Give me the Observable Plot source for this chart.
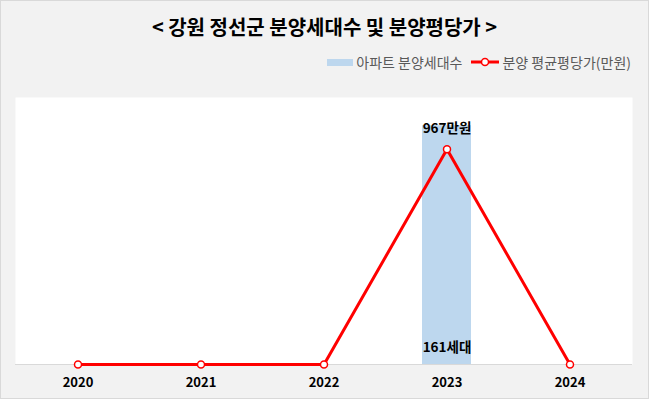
<!DOCTYPE html>
<html>
<head>
<meta charset="utf-8">
<script src="https://cdn.jsdelivr.net/npm/d3@7"></script>
<script src="https://cdn.jsdelivr.net/npm/@observablehq/plot@0.6"></script>
<style>
  html, body { margin: 0; padding: 0; background: #fff; }
  #wrap { position: relative; width: 649px; height: 399px; background: #f2f2f2; overflow: hidden;
          font-family: "Noto Sans CJK KR", "Noto Sans", sans-serif; }
  #title { position: absolute; left: 0; top: 13px; width: 649px; text-align: center;
           font-size: 20px; font-weight: bold; color: #000; line-height: 28px; }
  #legend { position: absolute; right: 18px; top: 52px; font-size: 14px; color: #595959;
            line-height: 20px; display: flex; align-items: center; white-space: nowrap; }
  #legend .sw { display: inline-block; width: 26px; height: 7px; background: #bdd7ee; margin-right: 3px; }
  #legend svg { margin-right: 2px; margin-left: 8px; }
  #chart { position: absolute; left: 0; top: 0; }
  #border { position: absolute; left: 0; top: 0; width: 647px; height: 397px; border: 1px solid #d9d9d9; pointer-events: none; }
</style>
</head>
<body>
<div id="wrap">
  <div id="chart"></div>
  <div id="title">&lt; 강원 정선군 분양세대수 및 분양평당가 &gt;</div>
  <div id="legend">
    <span class="sw"></span><span>아파트 분양세대수</span>
    <svg width="30" height="12"><line x1="1" y1="6" x2="29" y2="6" stroke="#ff0000" stroke-width="3"/><circle cx="15" cy="6" r="3.5" fill="#fff" stroke="#ff0000" stroke-width="1.5"/></svg>
    <span>분양 평균평당가(만원)</span>
  </div>
  <div id="border"></div>
</div>
<script>
const years = ["2020", "2021", "2022", "2023", "2024"];
const units = [0, 0, 0, 161, 0];
const prices = [0, 0, 0, 967, 0];

const data = years.map((year, i) => ({year, units: units[i], price: prices[i]}));
const unitMax = 180;
const priceMax = 1200;
const toUnitScale = v => v * unitMax / priceMax;

const chart = Plot.plot({
  width: 649,
  height: 399,
  marginTop: 97,
  marginBottom: 35,
  marginLeft: 15,
  marginRight: 17,
  style: {background: "transparent", fontFamily: "'Noto Sans CJK KR', 'Noto Sans', sans-serif", color: "#000"},
  x: {domain: years, paddingInner: 0.6, paddingOuter: 0.3},
  y: {domain: [0, unitMax], axis: null},
  marks: [
    Plot.frame({fill: "white", stroke: "none"}),
    Plot.barY(data, {x: "year", y: "units", fill: "#bdd7ee"}),
    Plot.ruleY([0], {stroke: "#d9d9d9", strokeWidth: 1}),
    Plot.axisX({tickSize: 0, tickPadding: 13, fontSize: 13, fontWeight: "bold", label: null}),
    Plot.line(data, {x: "year", y: d => toUnitScale(d.price), stroke: "#ff0000", strokeWidth: 3, curve: "linear"}),
    Plot.dot(data, {x: "year", y: d => toUnitScale(d.price), r: 3.5, fill: "white", stroke: "#ff0000", strokeWidth: 1.5}),
    Plot.text(data.filter(d => d.price > 0), {x: "year", y: d => toUnitScale(d.price), text: d => d.price + "만원", dy: -21, fontSize: 13.5, fontWeight: "bold", fill: "#000"}),
    Plot.text(data.filter(d => d.units > 0), {x: "year", y: 0, text: d => d.units + "세대", dy: -17, fontSize: 13.5, fontWeight: "bold", fill: "#000"})
  ]
});
document.getElementById("chart").appendChild(chart);
</script>
</body>
</html>
